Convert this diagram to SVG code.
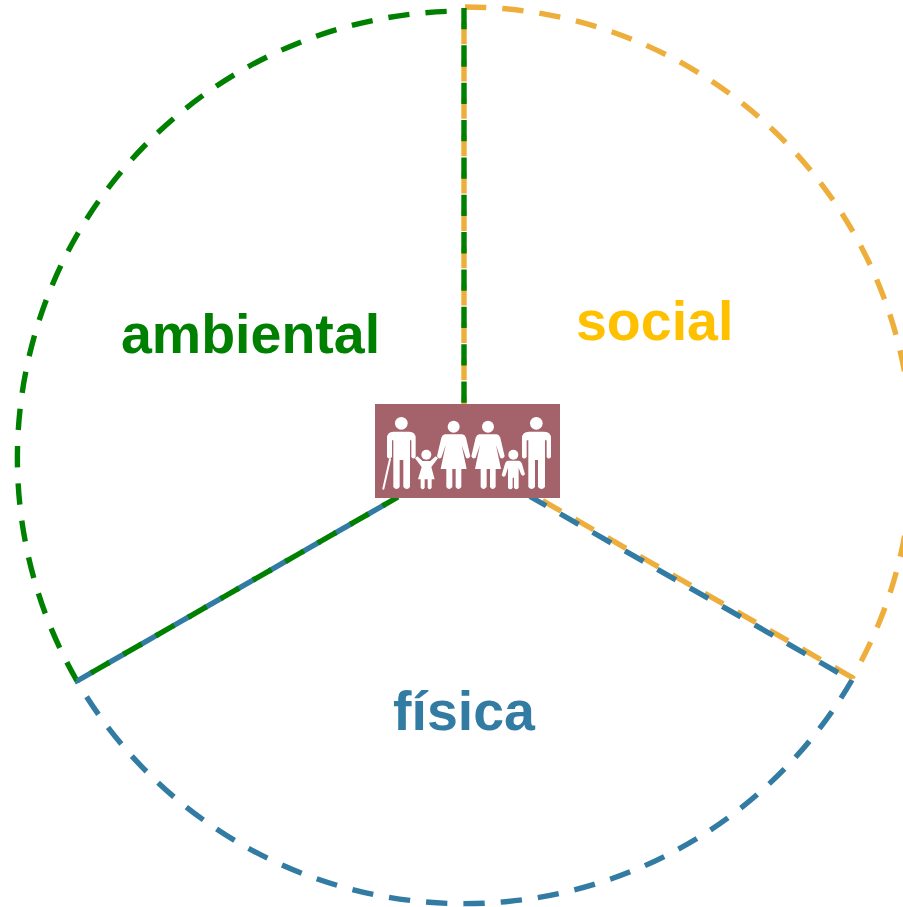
<svg xmlns="http://www.w3.org/2000/svg" width="903" height="907" viewBox="0 0 903 907">
<style>
.c{fill:none;stroke-width:5.4;stroke-dasharray:21.3 16.05}
.g{stroke:#008000}.o{stroke:#eeae3b}.b{stroke:#327ba3}
.t{font-family:"Liberation Sans",Arial,sans-serif;font-weight:700;font-size:55.5px}
.w{fill:#fff}.l{stroke:#fff;stroke-linecap:round;fill:none}
</style>
<rect width="903" height="907" fill="#fff"/>
<g id="connectors">
<path class="c o" d="M465 7A447 447 0 0 1 852 678"/>
<path class="c b" d="M852 680A448 448 0 0 1 77 681"/>
<path class="c g" d="M77 681A447 447 0 0 1 465 11"/>
<path class="c o" d="M853 678L531 494"/>
<path class="c b" d="M852 680.500L530 496.500" stroke-dashoffset="21.3"/>
<path class="c o" d="M464 8V404" stroke-dashoffset="22.500"/>
<path class="c b" d="M77 681L398 497" stroke-dashoffset="2.500"/>
<path class="c g" d="M77 681L398 497" stroke-dashoffset="21.300"/>
<path class="c g" d="M464 8V404"/>
</g>
<g id="center">
<rect x="375" y="404" width="185" height="94" fill="#a4626b"/>
<g transform="translate(365 395) scale(.3333)">
<circle class="w" cx="109" cy="85" r="19"/>
<path class="w" d="M85 110H133Q152 110 152 130V186Q146 195 139 186V136H135V276Q126 288 115 276V195H104V276Q94 288 85 276V136H81V186Q73 195 66 186V130Q66 110 85 110Z"/>
<path class="l" stroke-width="6" d="M75 193L55 281"/>
<circle class="w" cx="184" cy="179" r="15"/>
<path class="w" d="M150 190L157 184L173 198H196L212 184L219 190L199 216L209 253H200V278Q194 288 188 278V253H179V278Q173 288 167 278V253H159L170 216Z"/>
<circle class="w" cx="266" cy="95" r="18"/>
<path class="w" id="woman" d="M240 118H292Q300 119 303 128L316 184Q311 194 303 188L290 150L305 222H289V276Q280 288 272 276V222H262V276Q252 288 244 276V222H227L242 150L229 188Q220 194 216 184L229 128Q232 119 240 118Z"/>
<circle class="w" cx="369" cy="95" r="18"/>
<path class="w" d="M343 118H395Q403 119 406 128L419 184Q414 194 406 188L393 150L408 222H392V276Q383 288 375 276V222H365V276Q355 288 347 276V222H330L345 150L332 188Q323 194 319 184L332 128Q335 119 343 118Z"/>
<circle class="w" cx="445" cy="179" r="15"/>
<path class="w" d="M428 197H462Q468 198 471 206L480 238Q474 246 468 238L461 218V278Q454 288 447 278V248H443V278Q436 288 429 278V218L421 243Q414 248 410 241L420 206Q422 198 428 197Z"/>
<circle class="w" cx="514" cy="85" r="19"/>
<path class="w" d="M492 110H538Q558 110 558 130V186Q551 195 545 186V136H540V276Q530 288 519 276V195H510V276Q500 288 490 276V136H485V186Q477 195 471 186V130Q471 110 492 110Z"/>
</g>
</g>
<g id="ambiental"><text class="t" x="121" y="353" fill="#008000">ambiental</text></g>
<g id="social"><text class="t" x="576" y="340" fill="#ffc000">social</text></g>
<g id="fisica"><text class="t" x="393" y="730" fill="#327ba3">física</text></g>
</svg>
